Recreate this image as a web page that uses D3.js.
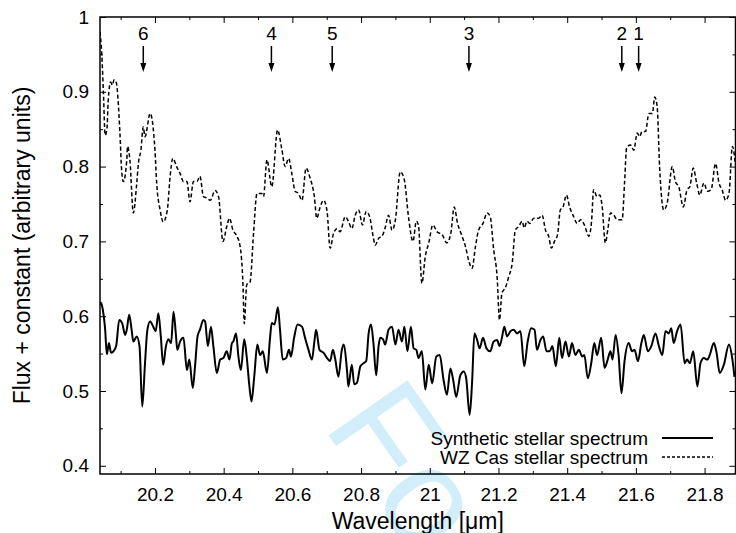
<!DOCTYPE html>
<html>
<head>
<meta charset="utf-8">
<script src="https://cdn.jsdelivr.net/npm/d3@7"></script>
<style>
body { margin: 0; background: #fff; }
svg { display: block; font-family: "Liberation Sans", Arial, sans-serif; }
</style>
</head>
<body>
<div id="chart-area"></div>
<script>
// WZ Cas observed spectrum (dashed)
const wzWave = [20.040,20.045,20.050,20.055,20.060,20.064,20.071,20.076,20.081,20.087,
	20.098,20.103,20.108,20.118,20.120,20.127,20.137,20.147,20.152,20.159,
	20.166,20.171,20.186,20.200,20.205,20.215,20.224,20.236,20.244,20.252,
	20.263,20.273,20.283,20.293,20.302,20.312,20.322,20.331,20.341,20.351,
	20.361,20.375,20.385,20.398,20.409,20.417,20.427,20.436,20.448,20.456,
	20.460,20.467,20.477,20.487,20.497,20.511,20.516,20.526,20.540,20.557,
	20.569,20.579,20.589,20.599,20.608,20.618,20.628,20.640,20.652,20.664,
	20.671,20.681,20.691,20.701,20.710,20.720,20.730,20.739,20.754,20.763,
	20.773,20.783,20.793,20.804,20.815,20.825,20.835,20.841,20.851,20.861,
	20.870,20.880,20.890,20.900,20.914,20.926,20.938,20.951,20.961,20.967,
	20.977,20.987,20.997,21.009,21.021,21.036,21.050,21.062,21.071,21.081,
	21.094,21.104,21.113,21.123,21.133,21.142,21.155,21.167,21.176,21.186,
	21.196,21.203,21.210,21.220,21.230,21.240,21.249,21.259,21.269,21.275,
	21.283,21.291,21.303,21.317,21.327,21.337,21.346,21.354,21.363,21.372,
	21.380,21.388,21.398,21.407,21.419,21.429,21.439,21.450,21.463,21.471,
	21.477,21.487,21.495,21.502,21.511,21.519,21.526,21.536,21.546,21.560,
	21.567,21.573,21.584,21.594,21.604,21.611,21.618,21.628,21.638,21.648,
	21.655,21.662,21.669,21.681,21.691,21.706,21.715,21.725,21.738,21.749,
	21.757,21.767,21.777,21.786,21.798,21.808,21.819,21.832,21.842,21.851,
	21.861,21.871,21.881,21.890]
const wzFlux = [0.980,0.952,0.898,0.842,0.849,0.889,0.913,0.909,0.916,0.913,
	0.845,0.795,0.780,0.809,0.827,0.809,0.738,0.778,0.805,0.822,
	0.853,0.840,0.871,0.822,0.778,0.742,0.726,0.742,0.786,0.811,
	0.800,0.791,0.780,0.780,0.753,0.780,0.780,0.787,0.760,0.758,
	0.755,0.768,0.760,0.700,0.720,0.731,0.715,0.709,0.693,0.644,
	0.590,0.642,0.646,0.711,0.764,0.764,0.760,0.809,0.773,0.849,
	0.824,0.800,0.811,0.789,0.767,0.764,0.755,0.798,0.784,0.760,
	0.731,0.746,0.755,0.740,0.691,0.711,0.717,0.713,0.733,0.727,
	0.717,0.735,0.742,0.722,0.740,0.733,0.707,0.695,0.704,0.707,
	0.718,0.735,0.715,0.729,0.793,0.782,0.733,0.700,0.727,0.722,
	0.644,0.680,0.698,0.722,0.713,0.709,0.698,0.713,0.746,0.724,
	0.707,0.693,0.675,0.664,0.693,0.715,0.724,0.738,0.733,0.689,
	0.653,0.595,0.631,0.638,0.653,0.671,0.715,0.720,0.727,0.718,
	0.727,0.724,0.731,0.731,0.735,0.715,0.707,0.691,0.700,0.709,
	0.742,0.746,0.762,0.746,0.733,0.724,0.729,0.722,0.707,0.727,
	0.769,0.760,0.762,0.746,0.698,0.718,0.738,0.735,0.729,0.729,
	0.778,0.825,0.829,0.822,0.845,0.840,0.847,0.847,0.871,0.871,
	0.893,0.880,0.800,0.742,0.751,0.800,0.780,0.773,0.746,0.769,
	0.773,0.798,0.778,0.762,0.778,0.767,0.769,0.804,0.778,0.769,
	0.755,0.764,0.827,0.802]

// synthetic spectrum (solid)
const synWave = [20.040,20.043,20.048,20.055,20.060,20.066,20.072,20.079,20.087,20.096,
	20.105,20.113,20.118,20.125,20.132,20.137,20.147,20.155,20.163,20.171,
	20.178,20.186,20.195,20.202,20.210,20.217,20.224,20.232,20.239,20.247,
	20.254,20.261,20.265,20.273,20.283,20.293,20.300,20.310,20.317,20.324,
	20.331,20.341,20.346,20.354,20.363,20.370,20.380,20.390,20.399,20.409,
	20.417,20.424,20.428,20.436,20.443,20.450,20.460,20.467,20.475,20.481,
	20.489,20.498,20.506,20.514,20.526,20.535,20.540,20.548,20.558,20.564,
	20.572,20.582,20.590,20.596,20.605,20.615,20.628,20.637,20.647,20.657,
	20.664,20.669,20.679,20.691,20.701,20.710,20.718,20.725,20.734,20.744,
	20.749,20.759,20.763,20.773,20.780,20.788,20.798,20.807,20.815,20.822,
	20.829,20.836,20.844,20.851,20.856,20.864,20.870,20.880,20.890,20.900,
	20.909,20.919,20.926,20.935,20.945,20.953,20.961,20.967,20.977,20.987,
	20.997,21.007,21.019,21.029,21.040,21.050,21.060,21.068,21.077,21.089,
	21.099,21.106,21.116,21.123,21.130,21.138,21.145,21.155,21.165,21.176,
	21.186,21.196,21.203,21.210,21.217,21.225,21.235,21.244,21.254,21.264,
	21.275,21.285,21.295,21.305,21.312,21.322,21.330,21.340,21.349,21.357,
	21.367,21.377,21.385,21.395,21.405,21.414,21.424,21.434,21.444,21.450,
	21.460,21.470,21.479,21.487,21.499,21.509,21.518,21.526,21.532,21.541,
	21.550,21.558,21.567,21.579,21.589,21.596,21.606,21.616,21.623,21.635,
	21.645,21.657,21.667,21.677,21.686,21.696,21.703,21.710,21.720,21.730,
	21.742,21.749,21.757,21.767,21.779,21.788,21.798,21.808,21.815,21.827,
	21.835,21.844,21.856,21.871,21.881,21.887]
const synFlux = [0.615,0.618,0.609,0.582,0.549,0.564,0.551,0.553,0.560,0.595,
	0.590,0.575,0.582,0.602,0.582,0.566,0.573,0.560,0.479,0.537,
	0.582,0.593,0.586,0.580,0.604,0.573,0.535,0.560,0.569,0.564,
	0.606,0.575,0.555,0.566,0.571,0.528,0.542,0.504,0.535,0.573,
	0.582,0.595,0.593,0.560,0.586,0.560,0.524,0.542,0.544,0.553,
	0.542,0.564,0.566,0.577,0.546,0.528,0.569,0.546,0.506,0.486,
	0.519,0.562,0.548,0.553,0.524,0.571,0.591,0.589,0.612,0.582,
	0.542,0.544,0.555,0.546,0.571,0.589,0.586,0.571,0.555,0.542,
	0.566,0.582,0.555,0.551,0.544,0.540,0.555,0.542,0.519,0.555,
	0.562,0.528,0.506,0.535,0.509,0.511,0.533,0.537,0.540,0.577,
	0.589,0.564,0.521,0.560,0.571,0.569,0.562,0.582,0.586,0.562,
	0.582,0.566,0.586,0.553,0.586,0.557,0.555,0.544,0.553,0.502,
	0.535,0.510,0.546,0.548,0.515,0.495,0.530,0.515,0.492,0.521,
	0.526,0.517,0.468,0.510,0.577,0.568,0.557,0.571,0.557,0.553,
	0.566,0.568,0.560,0.571,0.586,0.573,0.580,0.582,0.577,0.580,
	0.533,0.566,0.584,0.582,0.555,0.568,0.573,0.553,0.553,0.560,
	0.533,0.571,0.544,0.566,0.546,0.564,0.548,0.555,0.546,0.548,
	0.517,0.537,0.564,0.548,0.571,0.531,0.542,0.553,0.542,0.575,
	0.546,0.497,0.540,0.564,0.553,0.555,0.540,0.564,0.575,0.553,
	0.560,0.577,0.560,0.548,0.580,0.577,0.584,0.564,0.580,0.589,
	0.537,0.542,0.537,0.553,0.506,0.537,0.544,0.542,0.548,0.564,
	0.551,0.524,0.535,0.562,0.542,0.519]

// line identifications (arrows at top)
const lineWave = [20.166, 20.539, 20.716, 21.114, 21.559, 21.608]
const lineLabels = ["6", "4", "5", "3", "2", "1"]

// ticks
const xMajor = [20.2, 20.4, 20.6, 20.8, 21, 21.2, 21.4, 21.6, 21.8]
const xMinor = [20.1, 20.3, 20.5, 20.7, 20.9, 21.1, 21.3, 21.5, 21.7]
const yMajor = [0.4, 0.5, 0.6, 0.7, 0.8, 0.9, 1]
const yMinor = [0.45, 0.55, 0.65, 0.75, 0.85, 0.95]

const legendNames = ["Synthetic stellar spectrum", "WZ Cas stellar spectrum"]

const W = 736, H = 533
const MARGIN = { LEFT: 100, RIGHT: 0.5, TOP: 17, BOTTOM: 59 }
const WIDTH = W - MARGIN.LEFT - MARGIN.RIGHT
const HEIGHT = H - MARGIN.TOP - MARGIN.BOTTOM

const svg = d3.select("#chart-area").append("svg")
	.attr("width", W)
	.attr("height", H)

// watermark behind everything (only its first letters show in the frame)
svg.append("text")
	.attr("transform", "translate(322,426) rotate(55)")
	.attr("font-size", 140)
	.attr("fill", "#d3eefb")
	.text("Fo")

const g = svg.append("g")
	.attr("transform", `translate(${MARGIN.LEFT}, ${MARGIN.TOP})`)

const x = d3.scaleLinear().domain([20.04, 21.89]).range([0, WIDTH])
const y = d3.scaleLinear().domain([0.389, 1]).range([HEIGHT, 0])

const fmt = d => String(+d.toFixed(2))

// axes (ticks point inward, mirrored on top/right)
function styleAxis(sel) {
	sel.select(".domain").remove()
	sel.selectAll("line").attr("stroke", "#000").attr("stroke-width", 1)
	sel.selectAll("text").attr("font-size", 19).attr("fill", "#000")
		.attr("font-family", "Liberation Sans, Arial, sans-serif")
}

g.append("g").attr("transform", `translate(0, ${HEIGHT})`)
	.call(d3.axisBottom(x).tickValues(xMajor).tickFormat(fmt).tickSizeInner(-6).tickSizeOuter(0).tickPadding(14))
	.call(styleAxis)
g.append("g").attr("transform", `translate(0, ${HEIGHT})`)
	.call(d3.axisBottom(x).tickValues(xMinor).tickFormat("").tickSizeInner(-3).tickSizeOuter(0))
	.call(styleAxis)
g.append("g")
	.call(d3.axisTop(x).tickValues(xMajor).tickFormat("").tickSizeInner(-6).tickSizeOuter(0))
	.call(styleAxis)
g.append("g")
	.call(d3.axisTop(x).tickValues(xMinor).tickFormat("").tickSizeInner(-3).tickSizeOuter(0))
	.call(styleAxis)

g.append("g")
	.call(d3.axisLeft(y).tickValues(yMajor).tickFormat(fmt).tickSizeInner(-6).tickSizeOuter(0).tickPadding(11))
	.call(styleAxis)
g.append("g")
	.call(d3.axisLeft(y).tickValues(yMinor).tickFormat("").tickSizeInner(-3).tickSizeOuter(0))
	.call(styleAxis)
g.append("g").attr("transform", `translate(${WIDTH}, 0)`)
	.call(d3.axisRight(y).tickValues(yMajor).tickFormat("").tickSizeInner(-6).tickSizeOuter(0))
	.call(styleAxis)
g.append("g").attr("transform", `translate(${WIDTH}, 0)`)
	.call(d3.axisRight(y).tickValues(yMinor).tickFormat("").tickSizeInner(-3).tickSizeOuter(0))
	.call(styleAxis)

// frame
g.append("rect")
	.attr("width", WIDTH)
	.attr("height", HEIGHT)
	.attr("fill", "none")
	.attr("stroke", "#000")
	.attr("stroke-width", 1.5)

// axis titles
svg.append("text")
	.attr("x", MARGIN.LEFT + WIDTH / 2)
	.attr("y", 529)
	.attr("text-anchor", "middle")
	.attr("font-size", 23)
	.text("Wavelength [μm]")

svg.append("text")
	.attr("transform", `translate(30, ${MARGIN.TOP + HEIGHT / 2}) rotate(-90)`)
	.attr("text-anchor", "middle")
	.attr("font-size", 23)
	.text("Flux + constant (arbitrary units)")

// spectra
g.append("clipPath").attr("id", "clip")
	.append("rect").attr("width", WIDTH).attr("height", HEIGHT)

const line = d3.line()
	.x(d => x(d[0]))
	.y(d => y(d[1]))
	.curve(d3.curveMonotoneX)

const plot = g.append("g").attr("clip-path", "url(#clip)")

plot.append("path")
	.datum(d3.zip(wzWave, wzFlux))
	.attr("d", line)
	.attr("fill", "none")
	.attr("stroke", "#000")
	.attr("stroke-width", 1.5)
	.attr("stroke-dasharray", "4,2.5")

plot.append("path")
	.datum(d3.zip(synWave, synFlux))
	.attr("d", line)
	.attr("fill", "none")
	.attr("stroke", "#000")
	.attr("stroke-width", 2)
	.attr("stroke-linejoin", "round")

// line identification arrows
const marks = g.selectAll(".mark")
	.data(d3.zip(lineWave, lineLabels))
	.join("g")
	.attr("class", "mark")
	.attr("transform", d => `translate(${x(d[0])}, 0)`)

marks.append("text")
	.attr("y", 23)
	.attr("text-anchor", "middle")
	.attr("font-size", 19)
	.text(d => d[1])
marks.append("line")
	.attr("y1", 29).attr("y2", 48)
	.attr("stroke", "#000").attr("stroke-width", 1.5)
marks.append("path")
	.attr("d", "M-3,46L3,46L0,55Z")
	.attr("fill", "#000")

// legend
const legend = svg.append("g")
const legendRows = legend.selectAll("g")
	.data(legendNames)
	.join("g")
	.attr("transform", (d, i) => `translate(0, ${438 + i * 19})`)

legendRows.append("text")
	.attr("x", 648)
	.attr("dy", "0.35em")
	.attr("text-anchor", "end")
	.attr("font-size", 19)
	.text(d => d)
legendRows.append("line")
	.attr("x1", 662).attr("x2", 713)
	.attr("stroke", "#000")
	.attr("stroke-width", (d, i) => i === 0 ? 2 : 1.3)
	.attr("stroke-dasharray", (d, i) => i === 0 ? null : "3,2")
</script>
</body>
</html>
